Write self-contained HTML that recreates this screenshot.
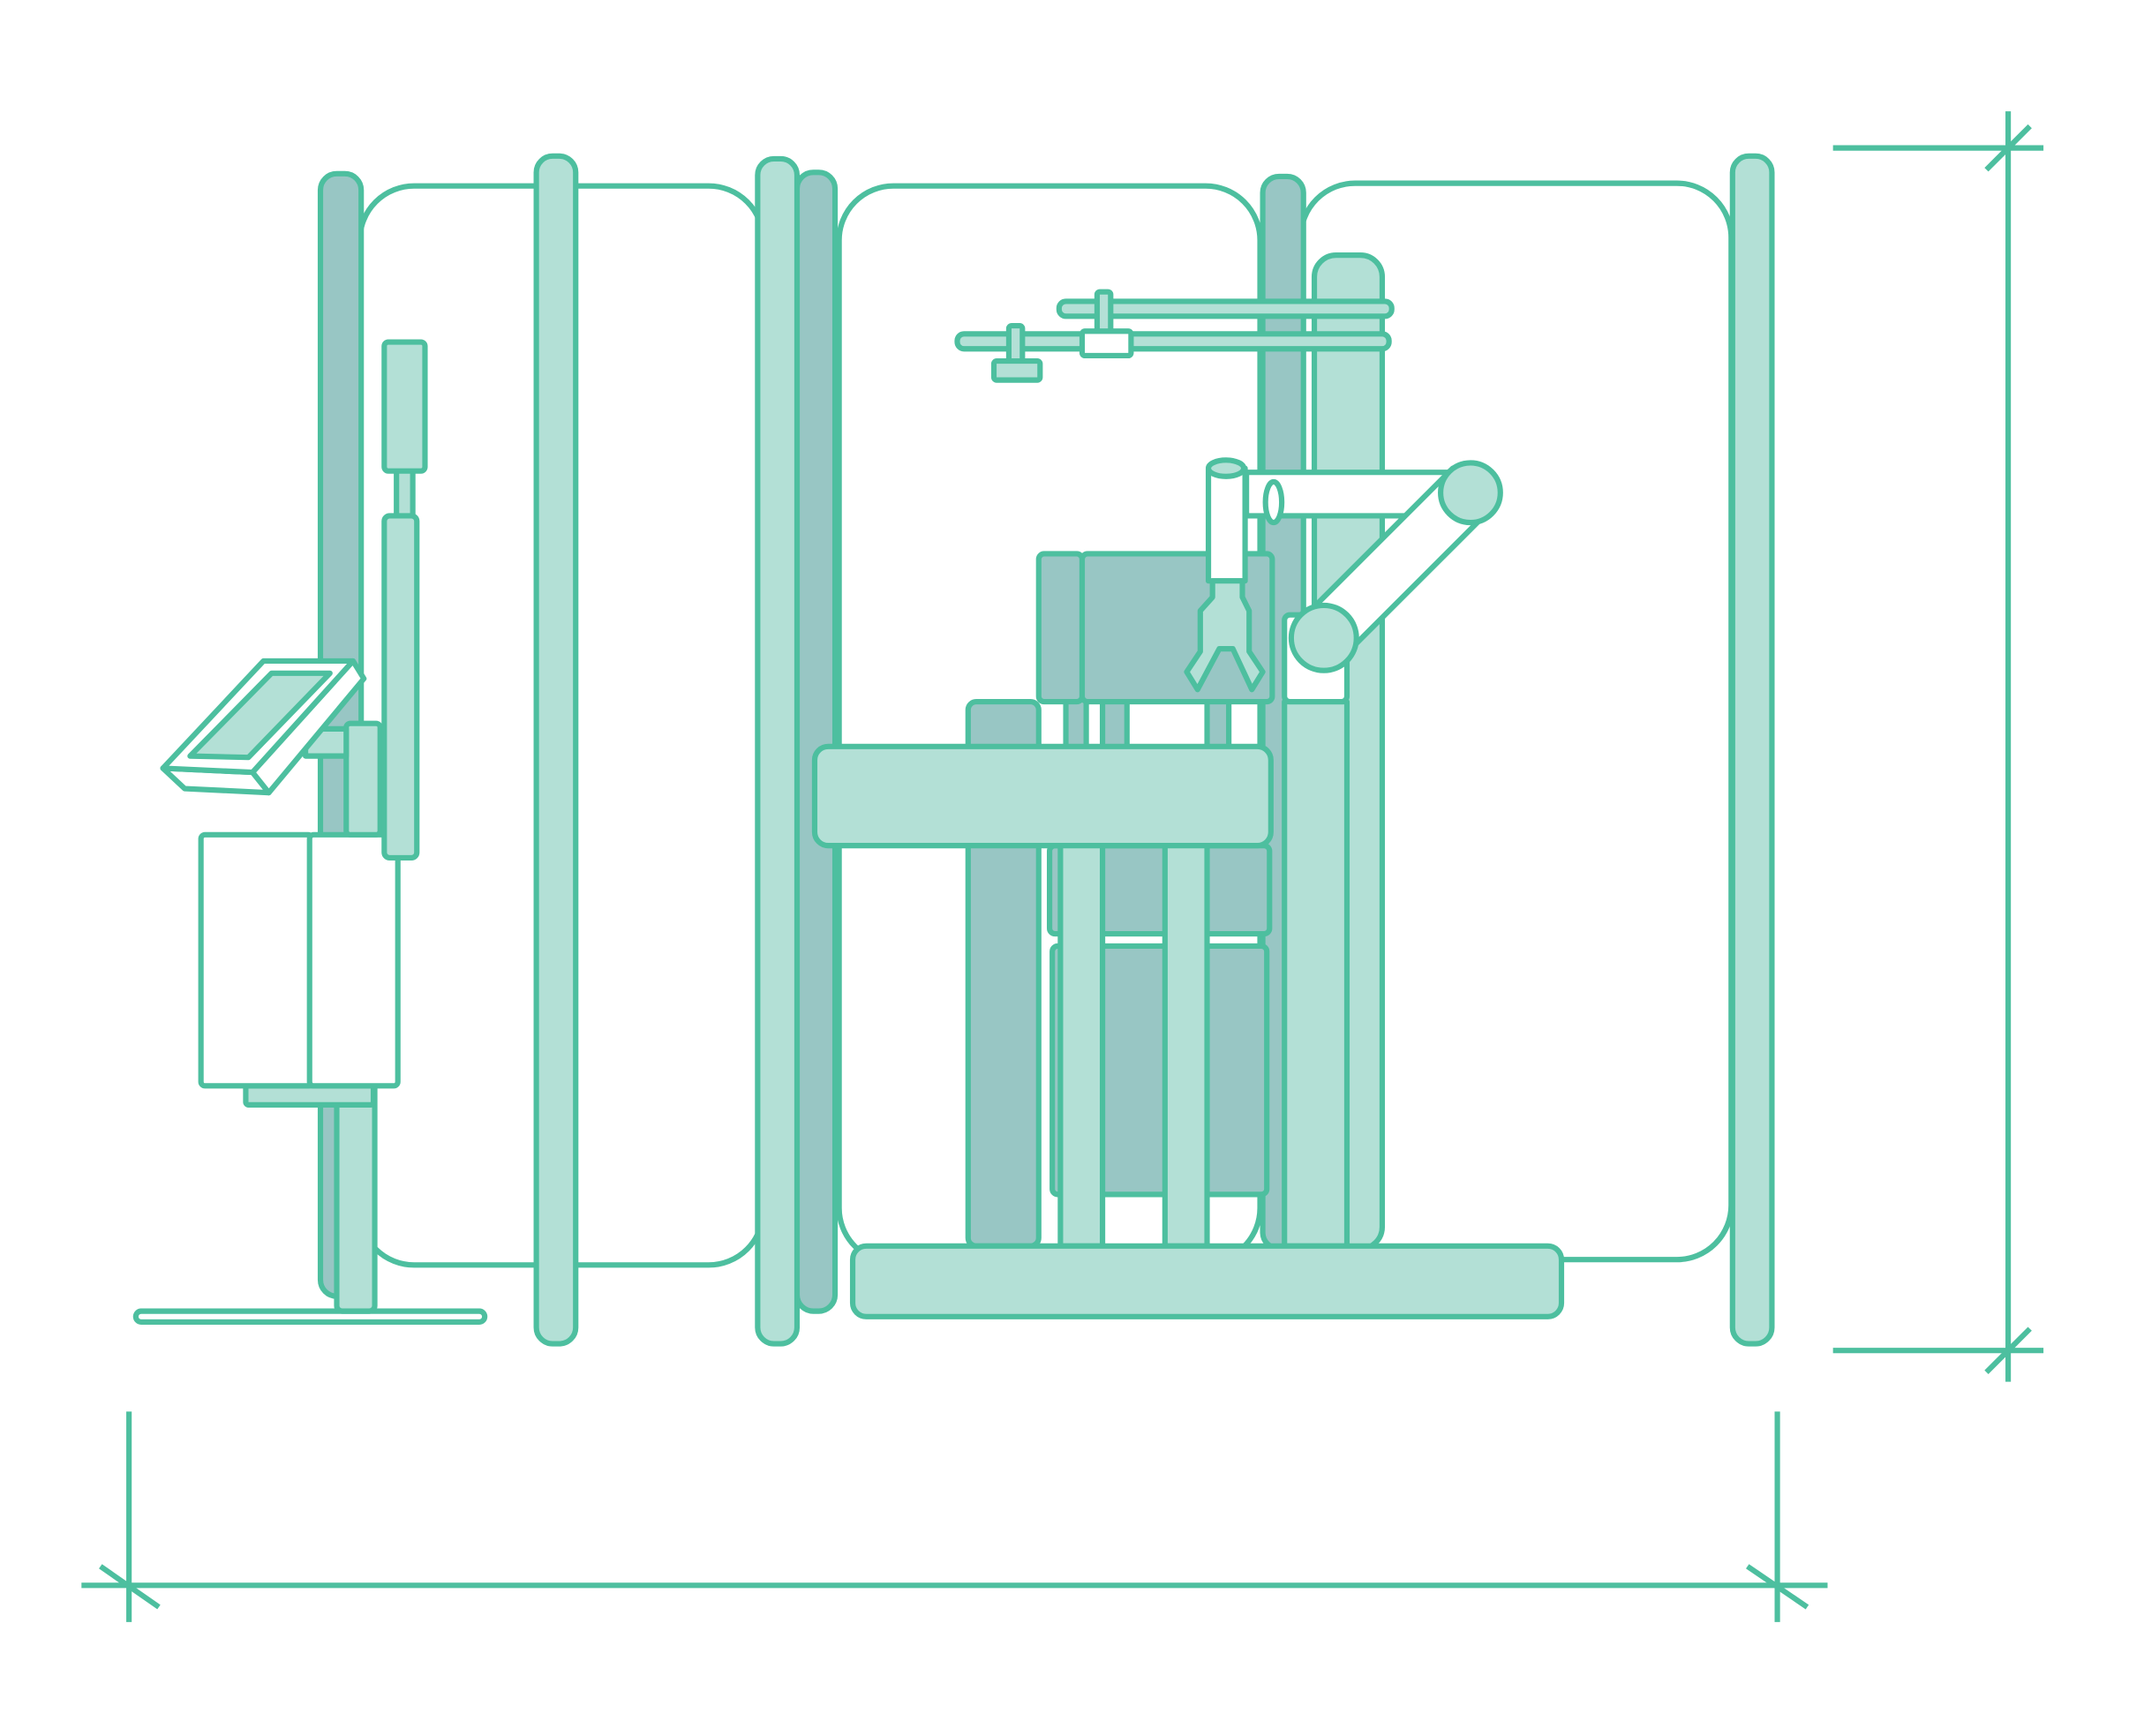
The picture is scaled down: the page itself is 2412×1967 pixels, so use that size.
<!DOCTYPE html>
<html><head><meta charset="utf-8"><style>
html,body{margin:0;padding:0;background:#fff;width:2412px;height:1967px;overflow:hidden}
svg{display:block}
</style></head><body>
<svg width="2412" height="1967" viewBox="0 0 1568 1279" preserveAspectRatio="none" xmlns="http://www.w3.org/2000/svg">
<g stroke="#4dbf9f" stroke-width="4" stroke-linejoin="round" fill="#fff">
<rect x="265" y="137" width="297" height="795" rx="40"/>
<rect x="618" y="137" width="310" height="793" rx="40"/>
<rect x="958" y="135" width="317" height="793" rx="40"/>
<rect x="236" y="128" width="30" height="827" rx="12" fill="#98c6c4"/>
<rect x="395" y="115" width="29" height="875" rx="12" fill="#b3e0d6"/>
<rect x="587" y="127" width="28" height="839" rx="12" fill="#98c6c4"/>
<rect x="558" y="117" width="29" height="873" rx="12" fill="#b3e0d6"/>
<rect x="930" y="130" width="30" height="790" rx="12" fill="#98c6c4"/>
<rect x="1276" y="115" width="29" height="875" rx="12" fill="#b3e0d6"/>
<rect x="968" y="188" width="50" height="732" rx="16" fill="#b3e0d6"/>
<rect x="780" y="222" width="245" height="11" rx="5" fill="#b3e0d6"/>
<rect x="705" y="246" width="318" height="11" rx="5" fill="#b3e0d6"/>
<rect x="808" y="215" width="10" height="30" rx="2" fill="#b3e0d6"/>
<rect x="797" y="244" width="36" height="18" rx="2"/>
<rect x="743" y="240" width="10" height="26" rx="2" fill="#b3e0d6"/>
<rect x="732" y="266" width="34" height="14" rx="2" fill="#b3e0d6"/>
<rect x="775" y="697" width="158" height="183" rx="4" fill="#98c6c4"/>
<rect x="773" y="623" width="162" height="65" rx="4" fill="#98c6c4"/>
<rect x="713" y="517" width="52" height="401" rx="6" fill="#98c6c4"/>
<rect x="785" y="510" width="15" height="45" fill="#98c6c4"/>
<rect x="812" y="510" width="18" height="45" fill="#98c6c4"/>
<rect x="889" y="510" width="16" height="45" fill="#98c6c4"/>
<rect x="765" y="408" width="32" height="109" rx="4" fill="#98c6c4"/>
<rect x="797" y="408" width="140" height="109" rx="4" fill="#98c6c4"/>
<rect x="781" y="620" width="31" height="298" fill="#b3e0d6"/>
<rect x="858" y="620" width="31" height="298" fill="#b3e0d6"/>
<rect x="600" y="550" width="336" height="73" rx="10" fill="#b3e0d6"/>
<rect x="946" y="517" width="46" height="401" fill="#b3e0d6"/>
<rect x="946" y="453" width="46" height="64" rx="4"/>
<rect x="628" y="918" width="522" height="52" rx="10" fill="#b3e0d6"/>
<rect x="918" y="348" width="150" height="32"/>
<polygon points="960,455 1070,345 1098,375 988,485"/>
<circle cx="1083" cy="363" r="22" fill="#b3e0d6"/>
<circle cx="975" cy="470" r="24" fill="#b3e0d6"/>
<ellipse cx="938" cy="370" rx="6" ry="15"/>
<rect x="890" y="345" width="27" height="83"/>
<ellipse cx="903" cy="345" rx="13" ry="6" fill="#b3e0d6"/>
<polygon points="893,428 915,428 915,440 920,450 920,480 930,495 922,508 908,478 898,478 882,508 874,495 884,480 884,450 893,440" fill="#b3e0d6"/>
<rect x="100" y="966" width="257" height="8" rx="4"/>
<rect x="248" y="798" width="28" height="168" rx="4" fill="#b3e0d6"/>
<rect x="181" y="800" width="94" height="14" rx="2" fill="#b3e0d6"/>
<rect x="148" y="615" width="82" height="185" rx="3"/>
<rect x="228" y="615" width="65" height="185" rx="3"/>
<rect x="255" y="533" width="25" height="82" rx="3" fill="#b3e0d6"/>
<rect x="225" y="537" width="30" height="20" fill="#b3e0d6"/>
<rect x="283" y="380" width="24" height="252" rx="4" fill="#b3e0d6"/>
<rect x="292" y="345" width="12" height="35" fill="#b3e0d6"/>
<rect x="283" y="252" width="30" height="95" rx="3" fill="#b3e0d6"/>
<polygon points="120,566 136,581 198,584 186,569"/>
<polygon points="186,569 198,584 268,500 260,487"/>
<polygon points="120,566 194,487 260,487 186,569"/>
<polygon points="140,557 200,496 243,496 183,558" fill="#b3e0d6"/>
<g fill="none">
<line x1="1350" y1="109" x2="1505" y2="109"/>
<line x1="1350" y1="995" x2="1505" y2="995"/>
<line x1="1479" y1="82" x2="1479" y2="1018"/>
<line x1="1463" y1="125" x2="1495" y2="93"/>
<line x1="1463" y1="1011" x2="1495" y2="979"/>
<line x1="60" y1="1168" x2="1346" y2="1168"/>
<line x1="95" y1="1040" x2="95" y2="1195"/>
<line x1="1309" y1="1040" x2="1309" y2="1195"/>
<line x1="74" y1="1154" x2="117" y2="1184"/>
<line x1="1287" y1="1154" x2="1331" y2="1184"/>
</g>
</g>
</svg>
</body></html>
